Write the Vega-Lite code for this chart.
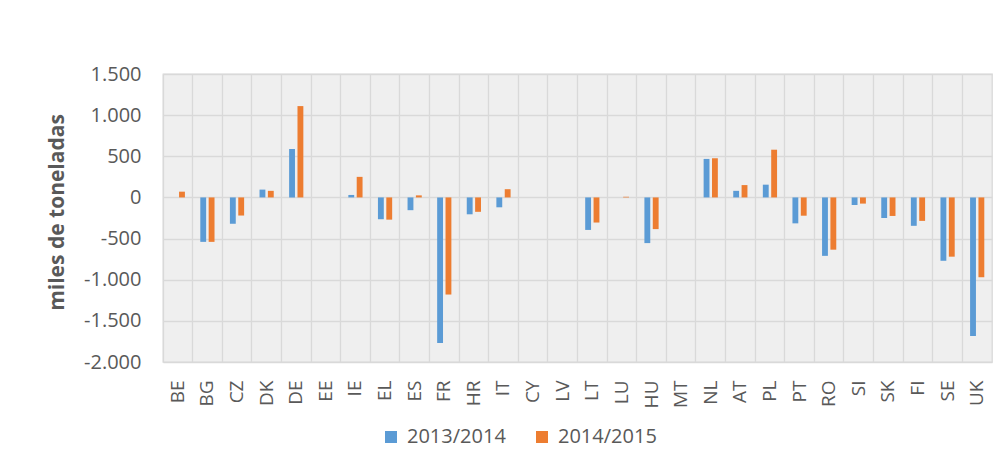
{
  "$schema": "https://vega.github.io/schema/vega-lite/v6.json",
  "width": 829,
  "height": 288,
  "autosize": {"type": "none"},
  "padding": {"left": 163, "top": 74, "right": 15, "bottom": 106},
  "background": "white",
  "data": {
    "values": [
      {"c": "BE", "s": "2013/2014", "v": 0}, {"c": "BE", "s": "2014/2015", "v": 70},
      {"c": "BG", "s": "2013/2014", "v": -540}, {"c": "BG", "s": "2014/2015", "v": -540},
      {"c": "CZ", "s": "2013/2014", "v": -320}, {"c": "CZ", "s": "2014/2015", "v": -220},
      {"c": "DK", "s": "2013/2014", "v": 95}, {"c": "DK", "s": "2014/2015", "v": 80},
      {"c": "DE", "s": "2013/2014", "v": 590}, {"c": "DE", "s": "2014/2015", "v": 1110},
      {"c": "EE", "s": "2013/2014", "v": 0}, {"c": "EE", "s": "2014/2015", "v": 0},
      {"c": "IE", "s": "2013/2014", "v": 30}, {"c": "IE", "s": "2014/2015", "v": 250},
      {"c": "EL", "s": "2013/2014", "v": -265}, {"c": "EL", "s": "2014/2015", "v": -270},
      {"c": "ES", "s": "2013/2014", "v": -155}, {"c": "ES", "s": "2014/2015", "v": 25},
      {"c": "FR", "s": "2013/2014", "v": -1770}, {"c": "FR", "s": "2014/2015", "v": -1180},
      {"c": "HR", "s": "2013/2014", "v": -205}, {"c": "HR", "s": "2014/2015", "v": -175},
      {"c": "IT", "s": "2013/2014", "v": -120}, {"c": "IT", "s": "2014/2015", "v": 100},
      {"c": "CY", "s": "2013/2014", "v": 0}, {"c": "CY", "s": "2014/2015", "v": 0},
      {"c": "LV", "s": "2013/2014", "v": 0}, {"c": "LV", "s": "2014/2015", "v": 0},
      {"c": "LT", "s": "2013/2014", "v": -395}, {"c": "LT", "s": "2014/2015", "v": -305},
      {"c": "LU", "s": "2013/2014", "v": 0}, {"c": "LU", "s": "2014/2015", "v": 8},
      {"c": "HU", "s": "2013/2014", "v": -555}, {"c": "HU", "s": "2014/2015", "v": -385},
      {"c": "MT", "s": "2013/2014", "v": 0}, {"c": "MT", "s": "2014/2015", "v": 0},
      {"c": "NL", "s": "2013/2014", "v": 468}, {"c": "NL", "s": "2014/2015", "v": 476},
      {"c": "AT", "s": "2013/2014", "v": 80}, {"c": "AT", "s": "2014/2015", "v": 150},
      {"c": "PL", "s": "2013/2014", "v": 155}, {"c": "PL", "s": "2014/2015", "v": 580},
      {"c": "PT", "s": "2013/2014", "v": -315}, {"c": "PT", "s": "2014/2015", "v": -222},
      {"c": "RO", "s": "2013/2014", "v": -710}, {"c": "RO", "s": "2014/2015", "v": -635},
      {"c": "SI", "s": "2013/2014", "v": -92}, {"c": "SI", "s": "2014/2015", "v": -75},
      {"c": "SK", "s": "2013/2014", "v": -250}, {"c": "SK", "s": "2014/2015", "v": -225},
      {"c": "FI", "s": "2013/2014", "v": -345}, {"c": "FI", "s": "2014/2015", "v": -285},
      {"c": "SE", "s": "2013/2014", "v": -770}, {"c": "SE", "s": "2014/2015", "v": -720},
      {"c": "UK", "s": "2013/2014", "v": -1685}, {"c": "UK", "s": "2014/2015", "v": -970}
    ]
  },
  "mark": {"type": "bar"},
  "encoding": {
    "x": {
      "field": "c",
      "type": "nominal",
      "sort": null,
      "scale": {"paddingInner": 0, "paddingOuter": 0},
      "axis": {
        "title": null,
        "bandPosition": 0,
        "labelAngle": 270,
        "labelAlign": "right",
        "labelBaseline": "middle",
        "labelPadding": 18,
        "labelFont": "Open Sans",
        "labelFontSize": 19,
        "labelColor": "#595959",
        "ticks": false,
        "domain": false,
        "grid": true,
        "gridColor": "#d9d9d9",
        "gridWidth": 1.3
      }
    },
    "xOffset": {
      "field": "s",
      "type": "nominal",
      "scale": {"paddingInner": 0.3, "paddingOuter": 0.92}
    },
    "y": {
      "field": "v",
      "type": "quantitative",
      "scale": {"domain": [-2000, 1500], "nice": false, "zero": false},
      "axis": {
        "title": "miles de toneladas",
        "titleFont": "Open Sans",
        "titleFontSize": 21,
        "titleFontWeight": "bold",
        "titleColor": "#595959",
        "titleAngle": 270,
        "titleAlign": "center",
        "titleBaseline": "middle",
        "titleX": -106,
        "titleY": 138,
        "values": [-2000, -1500, -1000, -500, 0, 500, 1000, 1500],
        "labelExpr": "replace(replace(format(datum.value, ','), regexp(',', 'g'), '.'), '\u2212', '-')",
        "labelFont": "Open Sans",
        "labelFontSize": 20,
        "labelColor": "#595959",
        "labelPadding": 22,
        "ticks": false,
        "domain": false,
        "grid": true,
        "gridColor": "#d9d9d9",
        "gridWidth": 1.3
      }
    },
    "color": {
      "field": "s",
      "type": "nominal",
      "scale": {"domain": ["2013/2014", "2014/2015"], "range": ["#5B9BD5", "#ED7D31"]},
      "legend": {
        "title": null,
        "orient": "none",
        "direction": "horizontal",
        "legendX": 218,
        "legendY": 353,
        "symbolType": "square",
        "symbolSize": 144,
        "symbolStrokeWidth": 0,
        "labelFont": "Open Sans",
        "labelFontSize": 20,
        "labelColor": "#595959",
        "labelOffset": 6,
        "columnPadding": 26
      }
    }
  },
  "config": {
    "view": {"fill": "#efefef", "stroke": "#d9d9d9", "strokeWidth": 1.3}
  }
}
